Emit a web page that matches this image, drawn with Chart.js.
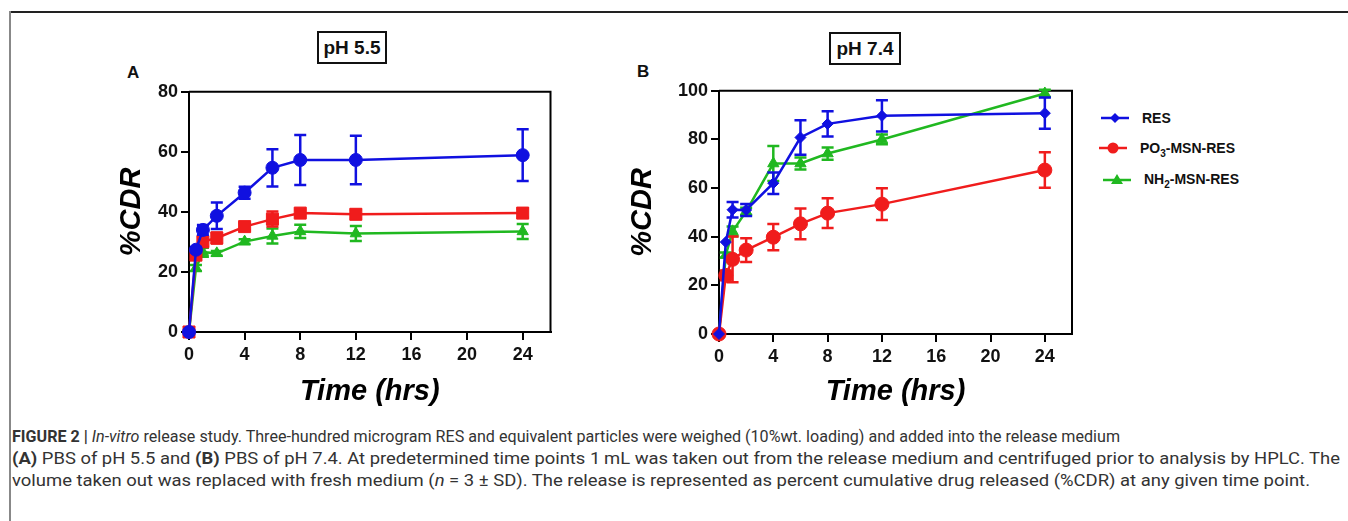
<!DOCTYPE html>
<html>
<head>
<meta charset="utf-8">
<script src="https://cdn.jsdelivr.net/npm/chart.js@4.4.1/dist/chart.umd.min.js"></script>
<style>
  html, body { margin: 0; padding: 0; background: #fff; }
  body { width: 1348px; height: 521px; position: relative; overflow: hidden; font-family: "Liberation Sans", Arial, sans-serif; }
  .frame-top { position: absolute; left: 9px; top: 11px; width: 1339px; border-top: 2px solid #222; }
  .frame-left { position: absolute; left: 9px; top: 11px; height: 510px; border-left: 2px solid #888; }
  .box { position: absolute; border: 2px solid #111; box-sizing: border-box; font-weight: bold; font-size: 19px; text-align: center; color: #111; }
  .letter { position: absolute; font-weight: bold; font-size: 17px; line-height: 20px; color: #111; }
  canvas { position: absolute; }
  .leg { position: absolute; height: 16px; }
  .leg svg { position: absolute; left: 0; top: 1px; }
  .leg span { position: absolute; left: 42px; top: 0; font-weight: bold; font-size: 14px; line-height: 16px; white-space: nowrap; color: #111; }
  .caption { position: absolute; left: 12px; font-family: Roboto, "Liberation Sans", sans-serif; font-size: 16px; line-height: 22px; color: #333; white-space: nowrap; transform-origin: 0 50%; }
</style>
</head>
<body>
<div class="frame-top"></div>
<div class="frame-left"></div>

<div class="box" style="left:317px;top:31px;width:70px;height:33px;line-height:29px;">pH 5.5</div>
<div class="box" style="left:829px;top:32px;width:72px;height:33px;line-height:29px;">pH 7.4</div>
<div class="letter" style="left:127px;top:63px;">A</div>
<div class="letter" style="left:637px;top:62px;">B</div>

<canvas id="chartA" width="460" height="337" style="left:100px;top:78px;"></canvas>
<canvas id="chartB" width="460" height="338" style="left:620px;top:77px;"></canvas>

<div class="leg" style="left:1100px;top:110px;">
  <svg width="30" height="14"><line x1="1" y1="7" x2="29" y2="7" stroke="#1010e0" stroke-width="2.5"/><polygon points="15,2 20,7 15,12 10,7" fill="#1010e0"/></svg>
  <span>RES</span>
</div>
<div class="leg" style="left:1098px;top:140px;">
  <svg width="30" height="14"><line x1="1" y1="7" x2="29" y2="7" stroke="#f01c1c" stroke-width="2.5"/><circle cx="15" cy="7" r="5.5" fill="#f01c1c"/></svg>
  <span>PO<sub style="font-size:10px;line-height:0;">3</sub>-MSN-RES</span>
</div>
<div class="leg" style="left:1102px;top:171px;">
  <svg width="30" height="14"><line x1="1" y1="8" x2="29" y2="8" stroke="#20b820" stroke-width="2.5"/><polygon points="15,2 21,12 9,12" fill="#20b820"/></svg>
  <span>NH<sub style="font-size:10px;line-height:0;">2</sub>-MSN-RES</span>
</div>

<div class="caption" data-w="1108" style="top:426px;"><b>FIGURE 2 |</b> <i>In-vitro</i> release study. Three-hundred microgram RES and equivalent particles were weighed (10%wt. loading) and added into the release medium</div>
<div class="caption" data-w="1328" style="top:448px;"><b>(A)</b> PBS of pH 5.5 and <b>(B)</b> PBS of pH 7.4. At predetermined time points 1&#8201;mL was taken out from the release medium and centrifuged prior to analysis by HPLC. The</div>
<div class="caption" data-w="1298" style="top:470px;">volume taken out was replaced with fresh medium (<i>n</i> = 3 &plusmn; SD). The release is represented as percent cumulative drug released (%CDR) at any given time point.</div>

<script>
// time points (hrs) and axis ticks
const timePoints = [0, 0.5, 1, 2, 4, 6, 8, 12, 24];
const xTicks = [0, 4, 8, 12, 16, 20, 24];
const yTicksA = [0, 20, 40, 60, 80];
const yTicksB = [0, 20, 40, 60, 80, 100];
const seriesNames = ['RES', 'PO3-MSN-RES', 'NH2-MSN-RES'];

// pH 5.5 (%CDR, mean and SD)
const resA    = [0, 27.4, 34.0, 38.7, 46.4, 54.7, 57.3, 57.3, 58.9];
const resAsd  = [0, 0.8, 1.6, 4.4, 2.0, 6.2, 8.3, 8.1, 8.6];
const po3A    = [0, 25.6, 30.1, 31.3, 35.1, 37.6, 39.6, 39.2, 39.6];
const po3Asd  = [0, 1.2, 1.8, 1.8, 1.2, 2.5, 1.2, 1.5, 1.5];
const nh2A    = [0, 21.3, 26.6, 26.2, 30.1, 32.0, 33.5, 32.8, 33.5];
const nh2Asd  = [0, 1.0, 1.5, 0.8, 0.8, 2.5, 2.2, 2.5, 2.5];

// pH 7.4
const resB    = [0, 37.8, 51.1, 51.0, 62.0, 80.8, 86.4, 89.7, 90.8];
const resBsd  = [0, 0, 3.2, 2.5, 4.4, 7.1, 5.2, 6.4, 6.4];
const po3B    = [0, 24.1, 30.7, 34.5, 39.8, 45.3, 49.7, 53.4, 67.4];
const po3Bsd  = [0, 2.0, 9.4, 4.9, 5.4, 6.3, 6.1, 6.5, 7.3];
const nh2B    = [0, 32.5, 42.2, 50.4, 70.1, 70.1, 74.2, 80.0, 98.9];
const nh2Bsd  = [0, 1.0, 2.0, 1.5, 7.2, 2.5, 2.5, 2.0, 1.5];

const BLUE = '#1010e0', RED = '#f01c1c', GREEN = '#20b820';
const FONT = '"Liberation Sans", Arial, sans-serif';

function toPoints(vals) {
  return vals.map((v, i) => ({ x: timePoints[i], y: v }));
}

// vertical SD bars with caps, drawn under each dataset's own line
const errorBars = {
  id: 'errorBars',
  beforeDatasetDraw(chart, args) {
    const ds = chart.data.datasets[args.index];
    if (!ds.errors) return;
    const ctx = chart.ctx, y = chart.scales.y;
    ctx.save();
    ctx.strokeStyle = ds.borderColor;
    ctx.lineWidth = 2.5;
    args.meta.data.forEach((pt, i) => {
      const e = ds.errors[i];
      if (!e) return;
      const top = y.getPixelForValue(ds.data[i].y + e);
      const bot = y.getPixelForValue(ds.data[i].y - e);
      ctx.beginPath();
      ctx.moveTo(pt.x, top); ctx.lineTo(pt.x, bot);
      ctx.moveTo(pt.x - 6, top); ctx.lineTo(pt.x + 6, top);
      ctx.moveTo(pt.x - 6, bot); ctx.lineTo(pt.x + 6, bot);
      ctx.stroke();
    });
    ctx.restore();
  }
};

// top + right sides of the plot box
const boxLines = {
  id: 'boxLines',
  beforeDatasetsDraw(chart) {
    const a = chart.chartArea, ctx = chart.ctx;
    ctx.save();
    ctx.strokeStyle = '#000';
    ctx.lineWidth = 2;
    ctx.beginPath();
    ctx.moveTo(a.left, a.top);
    ctx.lineTo(a.right, a.top);
    ctx.lineTo(a.right, a.bottom);
    ctx.stroke();
    ctx.restore();
  }
};

function line(label, vals, sd, color, style, radius) {
  return {
    label: label,
    data: toPoints(vals),
    errors: sd,
    borderColor: color,
    backgroundColor: color,
    pointBackgroundColor: color,
    pointBorderColor: color,
    pointBorderWidth: 1,
    borderWidth: 2.5,
    pointStyle: style,
    pointRadius: radius,
    tension: 0,
    clip: false
  };
}

function makeChart(id, datasets, yTicks, yWidth, xHeight, yTitlePad) {
  return new Chart(document.getElementById(id), {
    type: 'line',
    data: { datasets: datasets },
    plugins: [boxLines, errorBars],
    options: {
      responsive: false,
      animation: false,
      layout: { padding: { top: 11, right: 5, left: 0, bottom: 0 } },
      plugins: { legend: { display: false }, tooltip: { enabled: false } },
      scales: {
        x: {
          type: 'linear', min: 0, max: 26,
          afterBuildTicks: s => { s.ticks = xTicks.map(v => ({ value: v })); },
          afterFit: s => { s.height = xHeight; },
          grid: { drawOnChartArea: false, drawTicks: true, tickLength: 8, color: '#000', lineWidth: 2 },
          border: { color: '#000', width: 2 },
          ticks: { color: '#111', padding: 4, maxRotation: 0, font: { family: FONT, size: 18, weight: 'bold' } },
          title: { display: true, text: 'Time (hrs)', color: '#000', padding: { top: 0, bottom: 6 },
                   font: { family: FONT, size: 29, weight: 'bold', style: 'italic' } }
        },
        y: {
          min: 0, max: yTicks[yTicks.length - 1],
          afterBuildTicks: s => { s.ticks = yTicks.map(v => ({ value: v })); },
          afterFit: s => { s.width = yWidth; },
          grid: { drawOnChartArea: false, drawTicks: true, tickLength: 8, color: '#000', lineWidth: 2 },
          border: { color: '#000', width: 2 },
          ticks: { color: '#111', padding: 3, font: { family: FONT, size: 18, weight: 'bold' } },
          title: { display: true, text: '%CDR', color: '#000', padding: { top: yTitlePad, bottom: 0 },
                   font: { family: FONT, size: 29, weight: 'bold', style: 'italic' } }
        }
      }
    }
  });
}

makeChart('chartA', [
  line(seriesNames[0], resA, resAsd, BLUE, 'circle', 6.5),
  line(seriesNames[1], po3A, po3Asd, RED, 'rect', 8.5),
  line(seriesNames[2], nh2A, nh2Asd, GREEN, 'triangle', 6.5)
], yTicksA, 89, 83, 15);

makeChart('chartB', [
  line(seriesNames[0], resB, resBsd, BLUE, 'rectRot', 5.5),
  line(seriesNames[1], po3B, po3Bsd, RED, 'circle', 7),
  line(seriesNames[2], nh2B, nh2Bsd, GREEN, 'triangle', 6.5)
], yTicksB, 99, 81, 6);

// squeeze caption lines to the reference widths
document.querySelectorAll('.caption').forEach(el => {
  el.style.display = 'inline-block';
  const w = el.getBoundingClientRect().width;
  el.style.transform = 'scaleX(' + (parseFloat(el.dataset.w) / w) + ')';
});
</script>
</body>
</html>
